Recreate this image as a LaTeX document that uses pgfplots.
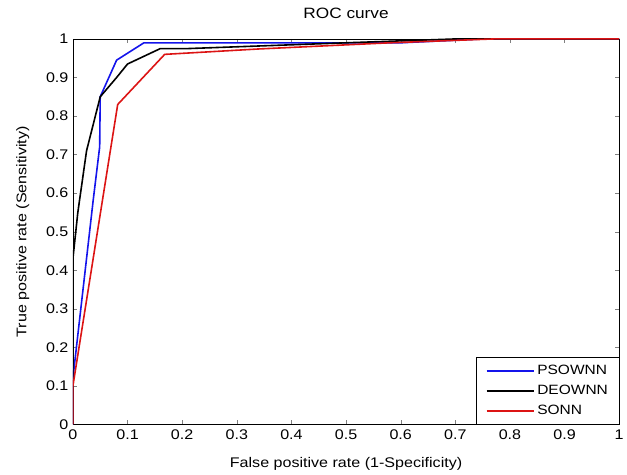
\documentclass[border=0pt]{standalone}
\usepackage{fontspec}
\setmainfont[FakeStretch=1.15]{Liberation Sans}
\usepackage{pgfplots}
\pgfplotsset{compat=1.18}
\definecolor{cPSO}{RGB}{20,20,235}
\definecolor{cSO}{RGB}{220,20,20}
\begin{document}
\begin{tikzpicture}
\begin{axis}[
    at={(0,0)}, anchor=south west,
    scale only axis,
    width=547pt, height=386pt,
    xmin=0, xmax=1, ymin=0, ymax=1,
    xtick={0,0.1,...,1}, ytick={0,0.1,...,1},
    tick align=inside,
    major tick length=4pt,
    /pgf/number format/assume math mode=true,
    tick label style={font=\fontsize{14}{16}\selectfont},
    xticklabel style={yshift=-2pt},
    yticklabel style={xshift=-1pt},
    title={ROC curve},
    title style={font=\fontsize{15}{17}\selectfont, yshift=11pt},
    xlabel={False positive rate (1-Specificity)},
    ylabel={True positive rate (Sensitivity)},
    label style={font=\fontsize{14}{16}\selectfont},
    xlabel style={yshift=-11pt},
    ylabel style={yshift=10pt},
    axis line style={line width=0.8pt},
    legend style={at={(1,0)}, anchor=south east,
        font=\fontsize{13.5}{16}\selectfont, draw=black, line width=0.6pt,
        inner xsep=9pt, inner ysep=6pt, row sep=5pt},
    legend cell align=left,
    legend image code/.code={%
      \draw[mark repeat=2,mark phase=2,#1] plot coordinates {(0pt,0pt) (24pt,0pt) (48pt,0pt)};},
]
\addplot[color=cPSO, line width=1.6pt] coordinates {
  (0,0) (0,0.12) (0.037,0.58) (0.049,0.72) (0.05,0.85) (0.08,0.945)
  (0.13,0.99) (0.6,0.99) (0.75,1) (1,1)};
\addlegendentry{PSOWNN}
\addplot[color=black, line width=1.6pt] coordinates {
  (0,0) (0,0.43) (0.009,0.55) (0.025,0.71) (0.05,0.85) (0.08,0.90)
  (0.10,0.935) (0.16,0.975) (0.21,0.975) (0.5,0.99) (0.7,1) (1,1)};
\addlegendentry{DEOWNN}
\addplot[color=cSO, line width=1.6pt] coordinates {
  (0,0) (0,0.1) (0.082,0.83) (0.168,0.96) (0.34,0.974) (0.58,0.99)
  (0.77,1) (1,1)};
\addlegendentry{SONN}
\end{axis}
\useasboundingbox (-73pt,-46pt) rectangle (554pt,425pt);
\end{tikzpicture}
\end{document}
